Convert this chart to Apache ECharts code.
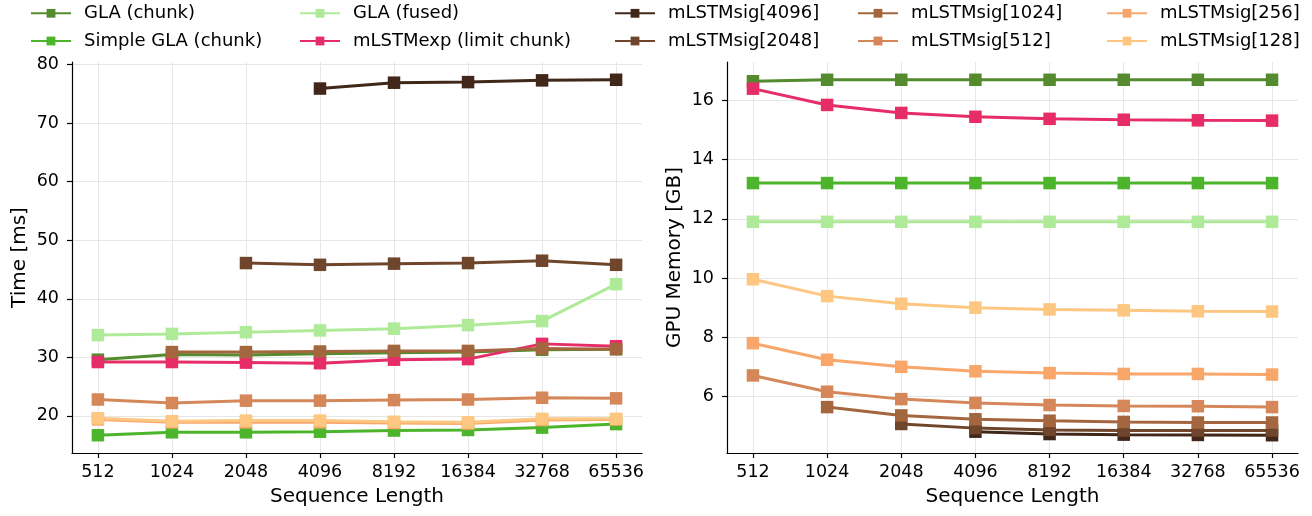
<!DOCTYPE html>
<html><head><meta charset="utf-8">
<script src="https://cdn.jsdelivr.net/npm/echarts@6/dist/echarts.min.js"></script>
<style>html,body{margin:0;padding:0;background:#fff}#c{width:1312px;height:516px}</style>
</head><body><div id="c"></div>
<script>
const categories = ['512','1024','2048','4096','8192','16384','32768','65536'];
const seriesNames = ['GLA (chunk)','Simple GLA (chunk)','GLA (fused)','mLSTMexp (limit chunk)',
  'mLSTMsig[4096]','mLSTMsig[2048]','mLSTMsig[1024]','mLSTMsig[512]','mLSTMsig[256]','mLSTMsig[128]'];
const seriesColors = ['#548B2E','#4DB52C','#AEEA98','#E72D68','#40271A','#6F462B','#A3663E','#D5875A','#F9A66B','#FDC782'];

// Time [ms]
const timeGLAChunk  = [29.6, 30.5, 30.4, 30.6, 30.8, 30.9, 31.3, 31.4];
const timeSimpleGLA = [16.7, 17.2, 17.2, 17.3, 17.5, 17.6, 18.0, 18.6];
const timeGLAFused  = [33.8, 34.0, 34.3, 34.6, 34.9, 35.5, 36.2, 42.5];
const timeMLSTMexp  = [29.2, 29.2, 29.1, 29.0, 29.6, 29.7, 32.3, 31.9];
const timeSig4096   = [null, null, null, 75.9, 76.9, 77.0, 77.3, 77.4];
const timeSig2048   = [null, null, 46.1, 45.8, 46.0, 46.1, 46.5, 45.8];
const timeSig1024   = [null, 30.9, 30.9, 31.0, 31.1, 31.1, 31.5, 31.4];
const timeSig512    = [22.8, 22.2, 22.6, 22.6, 22.7, 22.8, 23.1, 23.0];
const timeSig256    = [19.4, 18.9, 18.9, 18.9, 18.8, 18.7, 19.3, 19.4];
const timeSig128    = [19.6, 19.1, 19.2, 19.2, 19.0, 18.9, 19.5, 19.5];

// GPU Memory [GB]
const memGLAChunk  = [16.65, 16.7, 16.7, 16.7, 16.7, 16.7, 16.7, 16.7];
const memSimpleGLA = [13.21, 13.21, 13.21, 13.21, 13.21, 13.21, 13.21, 13.21];
const memGLAFused  = [11.9, 11.9, 11.9, 11.9, 11.9, 11.9, 11.9, 11.9];
const memMLSTMexp  = [16.40, 15.85, 15.58, 15.45, 15.38, 15.35, 15.33, 15.32];
const memSig4096   = [null, null, null, 4.81, 4.73, 4.71, 4.70, 4.69];
const memSig2048   = [null, null, 5.07, 4.93, 4.87, 4.85, 4.85, 4.85];
const memSig1024   = [null, 5.64, 5.36, 5.23, 5.18, 5.14, 5.12, 5.12];
const memSig512    = [6.71, 6.16, 5.91, 5.78, 5.71, 5.68, 5.67, 5.64];
const memSig256    = [7.80, 7.24, 7.00, 6.85, 6.79, 6.76, 6.76, 6.74];
const memSig128    = [9.96, 9.39, 9.13, 9.00, 8.94, 8.91, 8.88, 8.87];

const timeTicks = [20, 30, 40, 50, 60, 70, 80];
const memTicks = [6, 8, 10, 12, 14, 16];

const timeSeries = [timeGLAChunk, timeSimpleGLA, timeGLAFused, timeMLSTMexp, timeSig4096, timeSig2048, timeSig1024, timeSig512, timeSig256, timeSig128];
const memSeries = [memGLAChunk, memSimpleGLA, memGLAFused, memMLSTMexp, memSig4096, memSig2048, memSig1024, memSig512, memSig256, memSig128];

const FONT = 'DejaVu Sans';
function extent(all) {
  const vals = all.flat().filter(v => v != null);
  const lo = Math.min(...vals), hi = Math.max(...vals), m = (hi - lo) * 0.05;
  return [lo - m, hi + m];
}
const tExt = extent(timeSeries), mExt = extent(memSeries);
const catIdx = categories.map((_, i) => i);

function xAxis(g) {
  return {
    type: 'value', gridIndex: g, min: -0.35, max: 7.35,
    axisLine: { show: true, onZero: false, lineStyle: { color: '#000', width: 1.2 } },
    axisTick: { show: true, length: 5, customValues: catIdx, lineStyle: { color: '#000', width: 1.2 } },
    axisLabel: { customValues: catIdx, formatter: v => categories[Math.round(v)], fontSize: 17.5, color: '#000', margin: 10, fontFamily: FONT },
    splitLine: { show: true, lineStyle: { color: '#e6e6e6', width: 1 } },
    name: 'Sequence Length', nameLocation: 'middle', nameGap: 34,
    nameTextStyle: { fontSize: 20, color: '#000', fontFamily: FONT }
  };
}
function yAxis(g, ext, ticks, name) {
  return {
    type: 'value', gridIndex: g, min: ext[0], max: ext[1],
    axisLine: { show: true, onZero: false, lineStyle: { color: '#000', width: 1.2 } },
    axisTick: { show: true, length: 5, customValues: ticks, lineStyle: { color: '#000', width: 1.2 } },
    axisLabel: { customValues: ticks, fontSize: 17.5, color: '#000', margin: 13, fontFamily: FONT },
    splitLine: { show: true, lineStyle: { color: '#e6e6e6', width: 1 } },
    name: name, nameLocation: 'middle', nameGap: 42,
    nameTextStyle: { fontSize: 20, color: '#000', fontFamily: FONT }
  };
}

const series = [];
[timeSeries, memSeries].forEach((set, g) => {
  set.forEach((arr, k) => {
    series.push({
      type: 'line', name: seriesNames[k], xAxisIndex: g, yAxisIndex: g,
      data: arr.map((v, i) => [i, v]).filter(p => p[1] != null),
      symbol: 'rect', symbolSize: 12.5, showSymbol: true,
      lineStyle: { width: 3, color: seriesColors[k] },
      itemStyle: { color: seriesColors[k] },
      emphasis: { disabled: true }, silent: true
    });
  });
});

const colLefts = [30, 299, 614, 857, 1106];
const rowCenters = [13.3, 41];
const legends = seriesNames.map((n, k) => ({
  data: [n], left: colLefts[Math.floor(k / 2)], top: rowCenters[k % 2] - 10,
  padding: 0, itemWidth: 40, itemHeight: 11, selectedMode: false,
  textStyle: { fontSize: 18, color: '#000', fontFamily: FONT, padding: [0, 0, 0, 8], lineHeight: 20 }
}));

const chart = echarts.init(document.getElementById('c'), null, { renderer: 'canvas' });
chart.setOption({
  animation: false,
  color: seriesColors,
  grid: [
    { left: 72, top: 62, width: 570, height: 391 },
    { left: 727, top: 62, width: 571, height: 391 }
  ],
  legend: legends,
  xAxis: [xAxis(0), xAxis(1)],
  yAxis: [yAxis(0, tExt, timeTicks, 'Time [ms]'), yAxis(1, mExt, memTicks, 'GPU Memory [GB]')],
  series: series
});
</script></body></html>
